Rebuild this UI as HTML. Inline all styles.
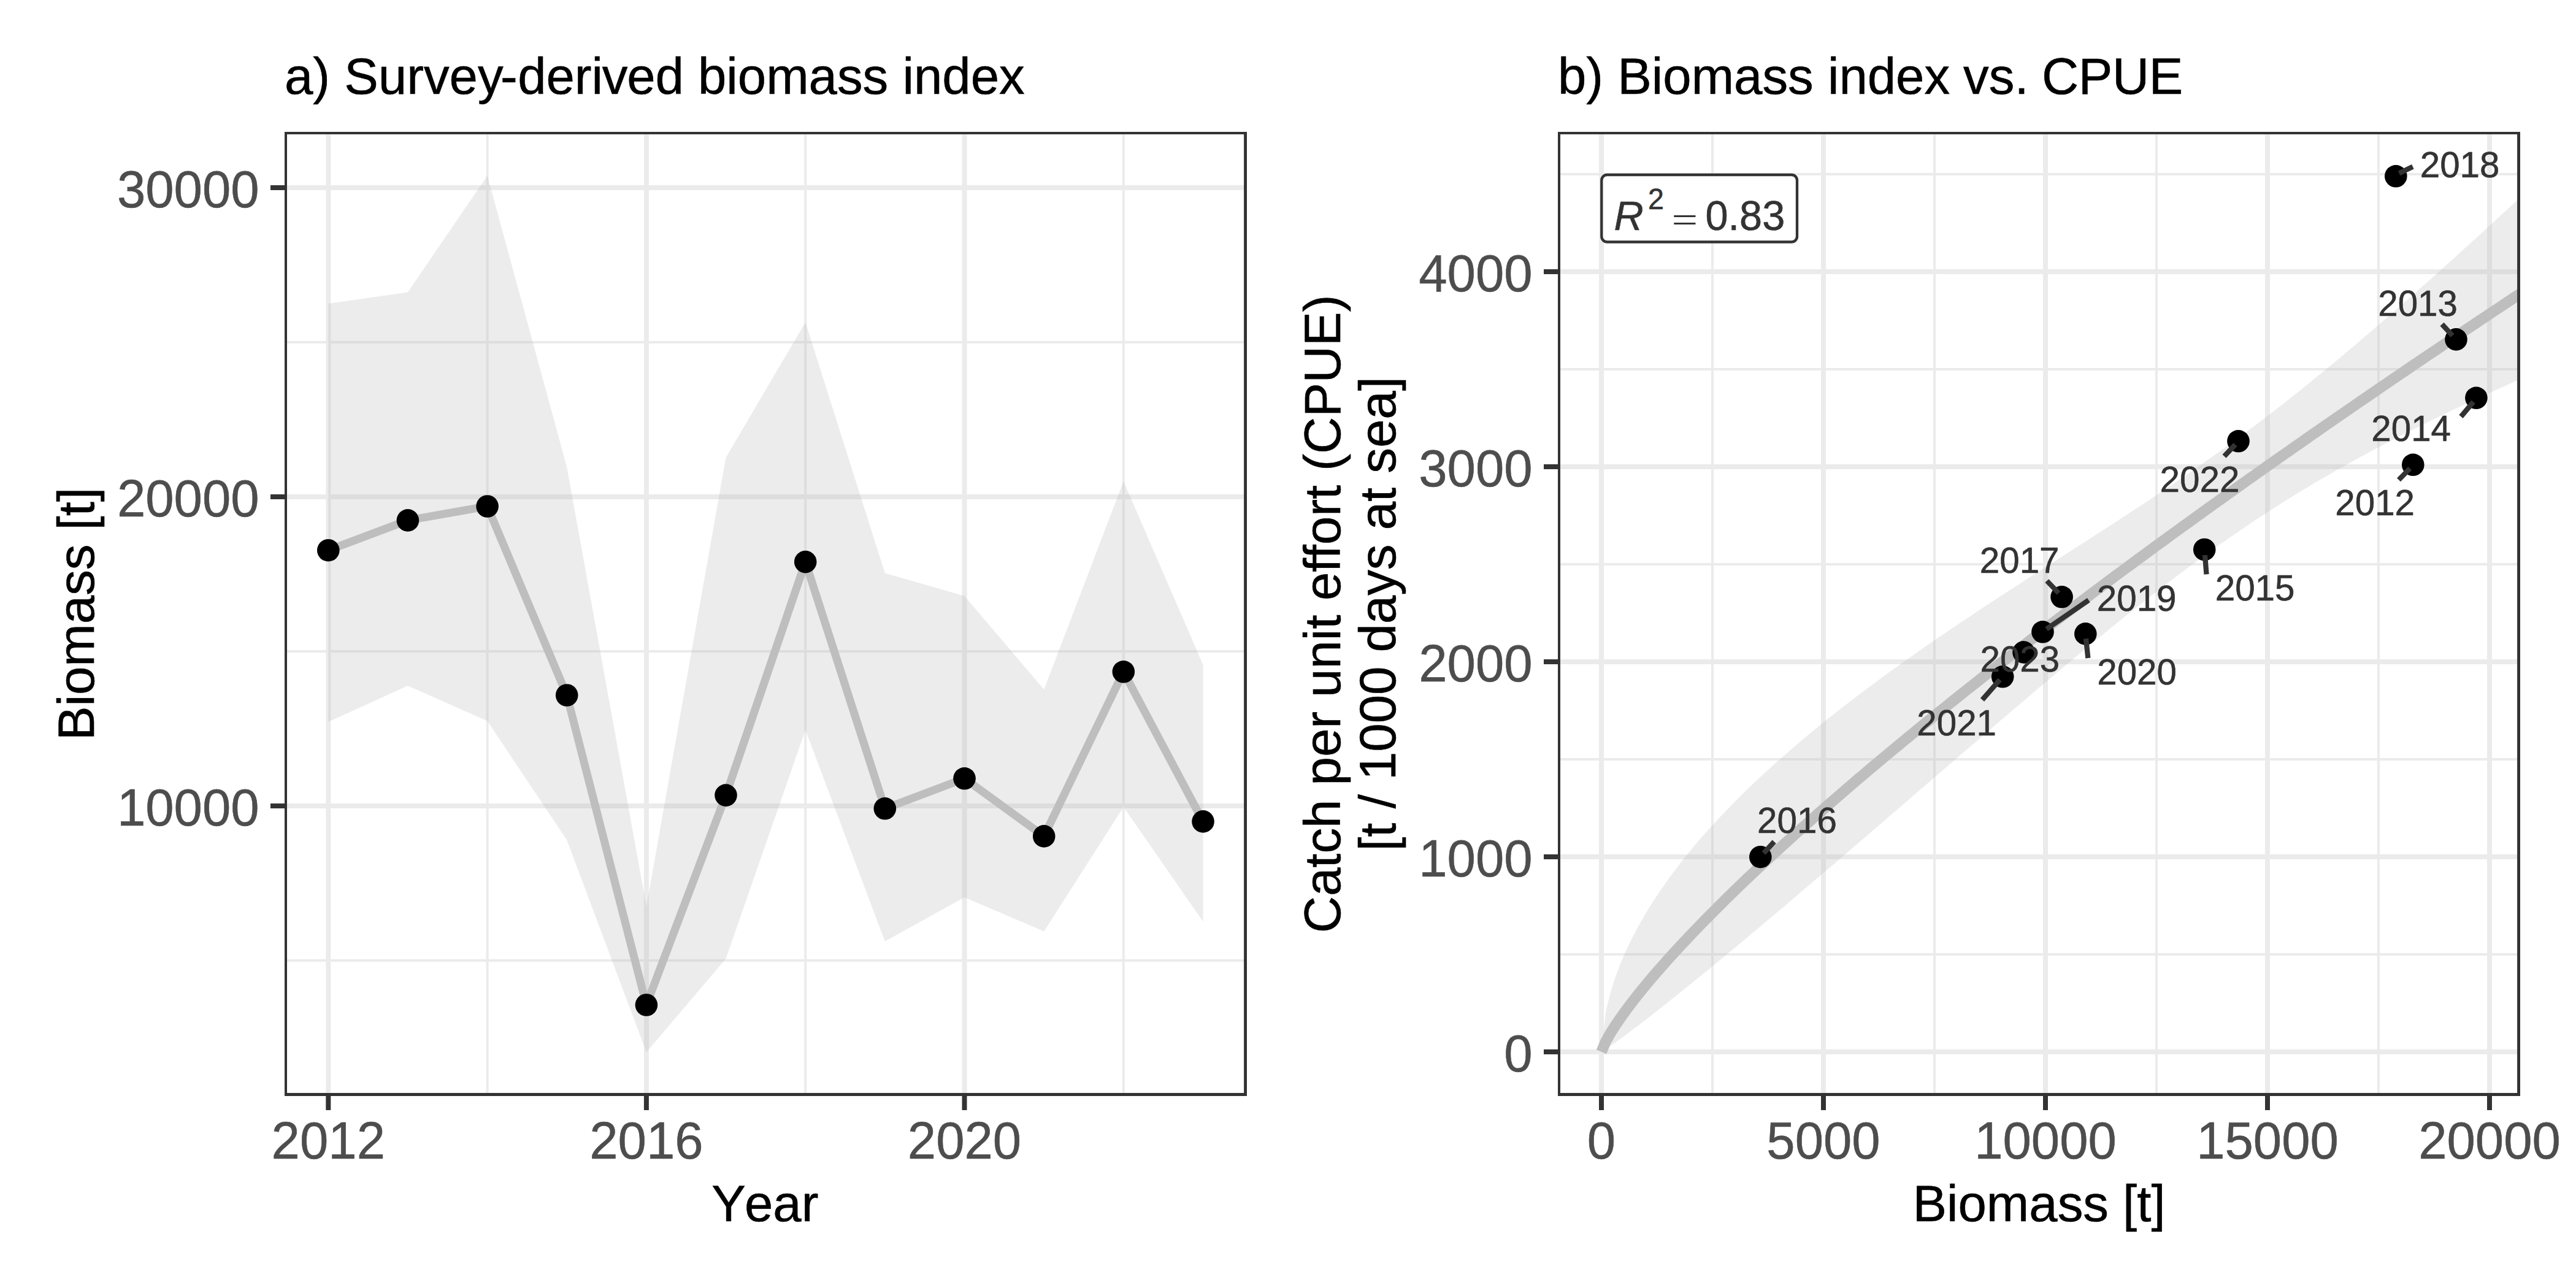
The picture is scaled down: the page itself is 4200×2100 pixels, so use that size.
<!DOCTYPE html>
<html><head><meta charset="utf-8"><title>Biomass index</title>
<style>html,body{margin:0;padding:0;background:#fff;}svg{display:block;}text{font-family:"Liberation Sans",Arial,sans-serif;stroke-width:0.6px;}</style></head><body>
<svg width="4200" height="2100" viewBox="0 0 4200 2100">
<rect width="4200" height="2100" fill="#fff"/>
<defs><clipPath id="ca"><rect x="464" y="215" width="1569" height="1572"/></clipPath><clipPath id="cb"><rect x="2540" y="215" width="1569" height="1572"/></clipPath></defs>
<g clip-path="url(#ca)">
<line x1="464" x2="2033" y1="1566.0" y2="1566.0" stroke="#EBEBEB" stroke-width="4"/>
<line x1="464" x2="2033" y1="1062.0" y2="1062.0" stroke="#EBEBEB" stroke-width="4"/>
<line x1="464" x2="2033" y1="558.0" y2="558.0" stroke="#EBEBEB" stroke-width="4"/>
<line y1="215" y2="1787" x1="794.6" x2="794.6" stroke="#EBEBEB" stroke-width="4"/>
<line y1="215" y2="1787" x1="1313.2" x2="1313.2" stroke="#EBEBEB" stroke-width="4"/>
<line y1="215" y2="1787" x1="1831.8" x2="1831.8" stroke="#EBEBEB" stroke-width="4"/>
<line x1="464" x2="2033" y1="1314.0" y2="1314.0" stroke="#EBEBEB" stroke-width="8"/>
<line x1="464" x2="2033" y1="810.0" y2="810.0" stroke="#EBEBEB" stroke-width="8"/>
<line x1="464" x2="2033" y1="306.0" y2="306.0" stroke="#EBEBEB" stroke-width="8"/>
<line y1="215" y2="1787" x1="535.3" x2="535.3" stroke="#EBEBEB" stroke-width="8"/>
<line y1="215" y2="1787" x1="1053.9" x2="1053.9" stroke="#EBEBEB" stroke-width="8"/>
<line y1="215" y2="1787" x1="1572.5" x2="1572.5" stroke="#EBEBEB" stroke-width="8"/>
<polygon points="535.3,495.0 664.9,476.4 794.6,286.5 924.2,761.5 1053.9,1478.0 1183.5,746.0 1313.2,525.5 1442.8,934.5 1572.5,971.7 1702.2,1124.2 1831.8,784.8 1961.5,1083.9 1961.5,1502.5 1831.8,1315.8 1702.2,1518.6 1572.5,1463.0 1442.8,1534.8 1313.2,1190.0 1183.5,1563.0 1053.9,1715.5 924.2,1369.6 794.6,1175.5 664.9,1118.0 535.3,1177.0" fill="rgba(179,179,179,0.25)"/>
<polyline points="535.3,897.2 664.9,848.4 794.6,825.5 924.2,1133.5 1053.9,1638.5 1183.5,1296.6 1313.2,916.1 1442.8,1318.3 1572.5,1269.3 1702.2,1363.4 1831.8,1095.3 1961.5,1339.4" fill="none" stroke="#BEBEBE" stroke-width="13" stroke-linejoin="round" stroke-linecap="butt"/>
<circle cx="535.3" cy="897.2" r="18.3" fill="#000"/>
<circle cx="664.9" cy="848.4" r="18.3" fill="#000"/>
<circle cx="794.6" cy="825.5" r="18.3" fill="#000"/>
<circle cx="924.2" cy="1133.5" r="18.3" fill="#000"/>
<circle cx="1053.9" cy="1638.5" r="18.3" fill="#000"/>
<circle cx="1183.5" cy="1296.6" r="18.3" fill="#000"/>
<circle cx="1313.2" cy="916.1" r="18.3" fill="#000"/>
<circle cx="1442.8" cy="1318.3" r="18.3" fill="#000"/>
<circle cx="1572.5" cy="1269.3" r="18.3" fill="#000"/>
<circle cx="1702.2" cy="1363.4" r="18.3" fill="#000"/>
<circle cx="1831.8" cy="1095.3" r="18.3" fill="#000"/>
<circle cx="1961.5" cy="1339.4" r="18.3" fill="#000"/>
</g>
<path fill-rule="evenodd" fill="#333333" d="M464,215H2033V1787H464Z M468,219V1782.1H2028.1V219Z"/>
<line x1="441" x2="464" y1="1314.0" y2="1314.0" stroke="#333333" stroke-width="8"/>
<text transform="translate(422.6,1345.8) scale(1,1.027)" font-size="83.33" fill="#4D4D4D" stroke="#4D4D4D" text-anchor="end">10000</text>
<line x1="441" x2="464" y1="810.0" y2="810.0" stroke="#333333" stroke-width="8"/>
<text transform="translate(422.6,841.8) scale(1,1.027)" font-size="83.33" fill="#4D4D4D" stroke="#4D4D4D" text-anchor="end">20000</text>
<line x1="441" x2="464" y1="306.0" y2="306.0" stroke="#333333" stroke-width="8"/>
<text transform="translate(422.6,337.8) scale(1,1.027)" font-size="83.33" fill="#4D4D4D" stroke="#4D4D4D" text-anchor="end">30000</text>
<line y1="1787" y2="1810" x1="535.3" x2="535.3" stroke="#333333" stroke-width="8"/>
<text transform="translate(535.3,1889.0) scale(1,1.027)" font-size="83.33" fill="#4D4D4D" stroke="#4D4D4D" text-anchor="middle">2012</text>
<line y1="1787" y2="1810" x1="1053.9" x2="1053.9" stroke="#333333" stroke-width="8"/>
<text transform="translate(1053.9,1889.0) scale(1,1.027)" font-size="83.33" fill="#4D4D4D" stroke="#4D4D4D" text-anchor="middle">2016</text>
<line y1="1787" y2="1810" x1="1572.5" x2="1572.5" stroke="#333333" stroke-width="8"/>
<text transform="translate(1572.5,1889.0) scale(1,1.027)" font-size="83.33" fill="#4D4D4D" stroke="#4D4D4D" text-anchor="middle">2020</text>
<text x="464" y="153" font-size="83.33" fill="#000" stroke="#000">a) Survey<tspan dx="-4.6">-</tspan><tspan dx="0.4">deri</tspan><tspan dx="-1.3">v</tspan><tspan dx="-1.3">ed biomass index</tspan></text>
<text x="1160.2" y="1991" font-size="83.33" fill="#000" stroke="#000">Y<tspan x="1214">ear</tspan></text>
<text transform="translate(153,1001.0) rotate(-90)" font-size="83.33" fill="#000" stroke="#000" text-anchor="middle">Biomass [t]</text>
<g clip-path="url(#cb)">
<line x1="2540" x2="4109" y1="1556.0" y2="1556.0" stroke="#EBEBEB" stroke-width="4"/>
<line x1="2540" x2="4109" y1="1238.0" y2="1238.0" stroke="#EBEBEB" stroke-width="4"/>
<line x1="2540" x2="4109" y1="920.0" y2="920.0" stroke="#EBEBEB" stroke-width="4"/>
<line x1="2540" x2="4109" y1="602.0" y2="602.0" stroke="#EBEBEB" stroke-width="4"/>
<line x1="2540" x2="4109" y1="284.0" y2="284.0" stroke="#EBEBEB" stroke-width="4"/>
<line y1="215" y2="1787" x1="2792.0" x2="2792.0" stroke="#EBEBEB" stroke-width="4"/>
<line y1="215" y2="1787" x1="3154.0" x2="3154.0" stroke="#EBEBEB" stroke-width="4"/>
<line y1="215" y2="1787" x1="3516.0" x2="3516.0" stroke="#EBEBEB" stroke-width="4"/>
<line y1="215" y2="1787" x1="3878.0" x2="3878.0" stroke="#EBEBEB" stroke-width="4"/>
<line x1="2540" x2="4109" y1="1715.0" y2="1715.0" stroke="#EBEBEB" stroke-width="8"/>
<line x1="2540" x2="4109" y1="1397.0" y2="1397.0" stroke="#EBEBEB" stroke-width="8"/>
<line x1="2540" x2="4109" y1="1079.0" y2="1079.0" stroke="#EBEBEB" stroke-width="8"/>
<line x1="2540" x2="4109" y1="761.0" y2="761.0" stroke="#EBEBEB" stroke-width="8"/>
<line x1="2540" x2="4109" y1="443.0" y2="443.0" stroke="#EBEBEB" stroke-width="8"/>
<line y1="215" y2="1787" x1="2611.0" x2="2611.0" stroke="#EBEBEB" stroke-width="8"/>
<line y1="215" y2="1787" x1="2973.0" x2="2973.0" stroke="#EBEBEB" stroke-width="8"/>
<line y1="215" y2="1787" x1="3335.0" x2="3335.0" stroke="#EBEBEB" stroke-width="8"/>
<line y1="215" y2="1787" x1="3697.0" x2="3697.0" stroke="#EBEBEB" stroke-width="8"/>
<line y1="215" y2="1787" x1="4059.0" x2="4059.0" stroke="#EBEBEB" stroke-width="8"/>
<polygon points="2611.0,1715.0 2618.2,1649.0 2625.5,1619.4 2632.7,1596.3 2640.0,1576.6 2647.2,1559.1 2654.4,1543.1 2661.7,1528.3 2668.9,1514.5 2676.2,1501.4 2683.4,1489.0 2690.6,1477.2 2697.9,1465.8 2705.1,1454.9 2712.4,1444.4 2719.6,1434.2 2726.8,1424.3 2734.1,1414.7 2741.3,1405.3 2748.6,1396.2 2755.8,1387.3 2763.0,1378.6 2770.3,1370.1 2777.5,1361.8 2784.8,1353.6 2792.0,1345.6 2799.2,1337.7 2806.5,1330.0 2813.7,1322.4 2821.0,1314.9 2828.2,1307.5 2835.4,1300.3 2842.7,1293.1 2849.9,1286.1 2857.2,1279.1 2864.4,1272.2 2871.6,1265.5 2878.9,1258.8 2886.1,1252.1 2893.4,1245.6 2900.6,1239.1 2907.8,1232.7 2915.1,1226.4 2922.3,1220.1 2929.6,1213.9 2936.8,1207.8 2944.0,1201.7 2951.3,1195.7 2958.5,1189.7 2965.8,1183.8 2973.0,1177.9 2980.2,1172.1 2987.5,1166.4 2994.7,1160.6 3002.0,1155.0 3009.2,1149.3 3016.4,1143.7 3023.7,1138.2 3030.9,1132.7 3038.2,1127.2 3045.4,1121.8 3052.6,1116.4 3059.9,1111.0 3067.1,1105.7 3074.4,1100.4 3081.6,1095.1 3088.8,1089.9 3096.1,1084.7 3103.3,1079.5 3110.6,1074.4 3117.8,1069.3 3125.0,1064.2 3132.3,1059.1 3139.5,1054.1 3146.8,1049.1 3154.0,1044.1 3161.2,1039.1 3168.5,1034.2 3175.7,1029.2 3183.0,1024.3 3190.2,1019.4 3197.4,1014.6 3204.7,1009.7 3211.9,1004.9 3219.2,1000.1 3226.4,995.3 3233.6,990.5 3240.9,985.7 3248.1,981.0 3255.4,976.2 3262.6,971.5 3269.8,966.8 3277.1,962.1 3284.3,957.4 3291.6,952.7 3298.8,948.0 3306.0,943.3 3313.3,938.6 3320.5,934.0 3327.8,929.3 3335.0,924.7 3342.2,920.0 3349.5,915.4 3356.7,910.7 3364.0,906.1 3371.2,901.5 3378.4,896.8 3385.7,892.2 3392.9,887.5 3400.2,882.9 3407.4,878.2 3414.6,873.6 3421.9,868.9 3429.1,864.2 3436.4,859.6 3443.6,854.9 3450.8,850.2 3458.1,845.5 3465.3,840.8 3472.6,836.0 3479.8,831.3 3487.0,826.5 3494.3,821.8 3501.5,817.0 3508.8,812.2 3516.0,807.3 3523.2,802.5 3530.5,797.6 3537.7,792.7 3545.0,787.8 3552.2,782.9 3559.4,777.9 3566.7,773.0 3573.9,767.9 3581.2,762.9 3588.4,757.8 3595.6,752.8 3602.9,747.6 3610.1,742.5 3617.4,737.3 3624.6,732.1 3631.8,726.8 3639.1,721.6 3646.3,716.3 3653.6,710.9 3660.8,705.5 3668.0,700.1 3675.3,694.7 3682.5,689.2 3689.8,683.7 3697.0,678.2 3704.2,672.6 3711.5,667.0 3718.7,661.4 3726.0,655.7 3733.2,650.0 3740.4,644.2 3747.7,638.5 3754.9,632.7 3762.2,626.9 3769.4,621.0 3776.6,615.1 3783.9,609.2 3791.1,603.2 3798.4,597.3 3805.6,591.3 3812.8,585.2 3820.1,579.2 3827.3,573.1 3834.6,567.0 3841.8,560.9 3849.0,554.7 3856.3,548.5 3863.5,542.3 3870.8,536.1 3878.0,529.9 3885.2,523.6 3892.5,517.3 3899.7,511.0 3907.0,504.7 3914.2,498.3 3921.4,492.0 3928.7,485.6 3935.9,479.2 3943.2,472.8 3950.4,466.3 3957.6,459.9 3964.9,453.4 3972.1,446.9 3979.4,440.4 3986.6,433.9 3993.8,427.4 4001.1,420.9 4008.3,414.3 4015.6,407.7 4022.8,401.2 4030.0,394.6 4037.3,388.0 4044.5,381.4 4051.8,374.7 4059.0,368.1 4066.2,361.5 4073.5,354.8 4080.7,348.1 4088.0,341.4 4095.2,334.8 4102.4,328.1 4109.7,321.4 4116.9,314.6 4124.2,307.9 4131.4,301.2 4131.4,608.1 4124.2,611.3 4116.9,614.5 4109.7,617.7 4102.4,620.9 4095.2,624.2 4088.0,627.4 4080.7,630.7 4073.5,634.0 4066.2,637.3 4059.0,640.6 4051.8,643.9 4044.5,647.2 4037.3,650.6 4030.0,654.0 4022.8,657.4 4015.6,660.8 4008.3,664.2 4001.1,667.6 3993.8,671.1 3986.6,674.6 3979.4,678.1 3972.1,681.6 3964.9,685.1 3957.6,688.7 3950.4,692.3 3943.2,695.9 3935.9,699.5 3928.7,703.1 3921.4,706.8 3914.2,710.5 3907.0,714.2 3899.7,717.9 3892.5,721.7 3885.2,725.5 3878.0,729.3 3870.8,733.1 3863.5,737.0 3856.3,740.9 3849.0,744.8 3841.8,748.8 3834.6,752.8 3827.3,756.8 3820.1,760.9 3812.8,764.9 3805.6,769.0 3798.4,773.2 3791.1,777.4 3783.9,781.6 3776.6,785.8 3769.4,790.1 3762.2,794.4 3754.9,798.8 3747.7,803.2 3740.4,807.6 3733.2,812.1 3726.0,816.6 3718.7,821.2 3711.5,825.8 3704.2,830.4 3697.0,835.1 3689.8,839.8 3682.5,844.5 3675.3,849.3 3668.0,854.2 3660.8,859.0 3653.6,863.9 3646.3,868.9 3639.1,873.9 3631.8,878.9 3624.6,884.0 3617.4,889.1 3610.1,894.3 3602.9,899.5 3595.6,904.7 3588.4,910.0 3581.2,915.3 3573.9,920.7 3566.7,926.0 3559.4,931.5 3552.2,936.9 3545.0,942.4 3537.7,947.9 3530.5,953.5 3523.2,959.0 3516.0,964.7 3508.8,970.3 3501.5,976.0 3494.3,981.7 3487.0,987.4 3479.8,993.2 3472.6,998.9 3465.3,1004.7 3458.1,1010.6 3450.8,1016.4 3443.6,1022.3 3436.4,1028.2 3429.1,1034.1 3421.9,1040.0 3414.6,1046.0 3407.4,1052.0 3400.2,1057.9 3392.9,1063.9 3385.7,1070.0 3378.4,1076.0 3371.2,1082.0 3364.0,1088.1 3356.7,1094.2 3349.5,1100.3 3342.2,1106.4 3335.0,1112.5 3327.8,1118.6 3320.5,1124.7 3313.3,1130.9 3306.0,1137.0 3298.8,1143.2 3291.6,1149.4 3284.3,1155.5 3277.1,1161.7 3269.8,1167.9 3262.6,1174.1 3255.4,1180.3 3248.1,1186.5 3240.9,1192.7 3233.6,1198.9 3226.4,1205.2 3219.2,1211.4 3211.9,1217.6 3204.7,1223.9 3197.4,1230.1 3190.2,1236.3 3183.0,1242.6 3175.7,1248.8 3168.5,1255.0 3161.2,1261.3 3154.0,1267.5 3146.8,1273.8 3139.5,1280.0 3132.3,1286.3 3125.0,1292.5 3117.8,1298.8 3110.6,1305.0 3103.3,1311.3 3096.1,1317.5 3088.8,1323.7 3081.6,1330.0 3074.4,1336.2 3067.1,1342.5 3059.9,1348.7 3052.6,1354.9 3045.4,1361.2 3038.2,1367.4 3030.9,1373.6 3023.7,1379.8 3016.4,1386.0 3009.2,1392.3 3002.0,1398.5 2994.7,1404.7 2987.5,1410.9 2980.2,1417.1 2973.0,1423.2 2965.8,1429.4 2958.5,1435.6 2951.3,1441.8 2944.0,1447.9 2936.8,1454.1 2929.6,1460.2 2922.3,1466.4 2915.1,1472.5 2907.8,1478.7 2900.6,1484.8 2893.4,1490.9 2886.1,1497.0 2878.9,1503.1 2871.6,1509.2 2864.4,1515.3 2857.2,1521.3 2849.9,1527.4 2842.7,1533.4 2835.4,1539.5 2828.2,1545.5 2821.0,1551.5 2813.7,1557.5 2806.5,1563.5 2799.2,1569.5 2792.0,1575.4 2784.8,1581.4 2777.5,1587.3 2770.3,1593.2 2763.0,1599.1 2755.8,1605.0 2748.6,1610.8 2741.3,1616.7 2734.1,1622.5 2726.8,1628.3 2719.6,1634.1 2712.4,1639.8 2705.1,1645.5 2697.9,1651.2 2690.6,1656.9 2683.4,1662.5 2676.2,1668.1 2668.9,1673.6 2661.7,1679.1 2654.4,1684.6 2647.2,1690.0 2640.0,1695.3 2632.7,1700.5 2625.5,1705.6 2618.2,1710.5 2611.0,1715.0" fill="rgba(179,179,179,0.25)"/>
<polyline points="2611.0,1715.0 2618.2,1697.8 2625.5,1685.0 2632.7,1673.5 2640.0,1662.8 2647.2,1652.5 2654.4,1642.7 2661.7,1633.2 2668.9,1623.9 2676.2,1614.9 2683.4,1606.1 2690.6,1597.4 2697.9,1588.9 2705.1,1580.6 2712.4,1572.4 2719.6,1564.2 2726.8,1556.2 2734.1,1548.3 2741.3,1540.5 2748.6,1532.8 2755.8,1525.1 2763.0,1517.6 2770.3,1510.1 2777.5,1502.6 2784.8,1495.2 2792.0,1487.9 2799.2,1480.7 2806.5,1473.5 2813.7,1466.3 2821.0,1459.2 2828.2,1452.2 2835.4,1445.2 2842.7,1438.2 2849.9,1431.3 2857.2,1424.4 2864.4,1417.6 2871.6,1410.8 2878.9,1404.1 2886.1,1397.3 2893.4,1390.7 2900.6,1384.0 2907.8,1377.4 2915.1,1370.8 2922.3,1364.2 2929.6,1357.7 2936.8,1351.2 2944.0,1344.8 2951.3,1338.3 2958.5,1331.9 2965.8,1325.5 2973.0,1319.2 2980.2,1312.8 2987.5,1306.5 2994.7,1300.2 3002.0,1294.0 3009.2,1287.7 3016.4,1281.5 3023.7,1275.3 3030.9,1269.1 3038.2,1263.0 3045.4,1256.8 3052.6,1250.7 3059.9,1244.6 3067.1,1238.6 3074.4,1232.5 3081.6,1226.5 3088.8,1220.5 3096.1,1214.5 3103.3,1208.5 3110.6,1202.5 3117.8,1196.6 3125.0,1190.6 3132.3,1184.7 3139.5,1178.8 3146.8,1173.0 3154.0,1167.1 3161.2,1161.2 3168.5,1155.4 3175.7,1149.6 3183.0,1143.8 3190.2,1138.0 3197.4,1132.2 3204.7,1126.4 3211.9,1120.7 3219.2,1115.0 3226.4,1109.2 3233.6,1103.5 3240.9,1097.8 3248.1,1092.2 3255.4,1086.5 3262.6,1080.8 3269.8,1075.2 3277.1,1069.6 3284.3,1063.9 3291.6,1058.3 3298.8,1052.7 3306.0,1047.2 3313.3,1041.6 3320.5,1036.0 3327.8,1030.5 3335.0,1024.9 3342.2,1019.4 3349.5,1013.9 3356.7,1008.4 3364.0,1002.9 3371.2,997.4 3378.4,991.9 3385.7,986.5 3392.9,981.0 3400.2,975.6 3407.4,970.1 3414.6,964.7 3421.9,959.3 3429.1,953.9 3436.4,948.5 3443.6,943.1 3450.8,937.7 3458.1,932.4 3465.3,927.0 3472.6,921.7 3479.8,916.3 3487.0,911.0 3494.3,905.7 3501.5,900.3 3508.8,895.0 3516.0,889.7 3523.2,884.5 3530.5,879.2 3537.7,873.9 3545.0,868.6 3552.2,863.4 3559.4,858.1 3566.7,852.9 3573.9,847.7 3581.2,842.4 3588.4,837.2 3595.6,832.0 3602.9,826.8 3610.1,821.6 3617.4,816.4 3624.6,811.2 3631.8,806.1 3639.1,800.9 3646.3,795.7 3653.6,790.6 3660.8,785.4 3668.0,780.3 3675.3,775.2 3682.5,770.1 3689.8,764.9 3697.0,759.8 3704.2,754.7 3711.5,749.6 3718.7,744.5 3726.0,739.5 3733.2,734.4 3740.4,729.3 3747.7,724.3 3754.9,719.2 3762.2,714.2 3769.4,709.1 3776.6,704.1 3783.9,699.0 3791.1,694.0 3798.4,689.0 3805.6,684.0 3812.8,679.0 3820.1,674.0 3827.3,669.0 3834.6,664.0 3841.8,659.0 3849.0,654.0 3856.3,649.1 3863.5,644.1 3870.8,639.1 3878.0,634.2 3885.2,629.2 3892.5,624.3 3899.7,619.3 3907.0,614.4 3914.2,609.5 3921.4,604.6 3928.7,599.6 3935.9,594.7 3943.2,589.8 3950.4,584.9 3957.6,580.0 3964.9,575.1 3972.1,570.3 3979.4,565.4 3986.6,560.5 3993.8,555.6 4001.1,550.8 4008.3,545.9 4015.6,541.1 4022.8,536.2 4030.0,531.4 4037.3,526.5 4044.5,521.7 4051.8,516.9 4059.0,512.0 4066.2,507.2 4073.5,502.4 4080.7,497.6 4088.0,492.8 4095.2,488.0 4102.4,483.2 4109.7,478.4 4116.9,473.6 4124.2,468.8 4131.4,464.0" fill="none" stroke="#BEBEBE" stroke-width="17.8" stroke-linejoin="round" stroke-linecap="butt"/>
<circle cx="3934.3" cy="757.8" r="18.3" fill="#000"/>
<circle cx="4004.5" cy="553.4" r="18.3" fill="#000"/>
<circle cx="4037.4" cy="648.8" r="18.3" fill="#000"/>
<circle cx="3594.2" cy="896" r="18.3" fill="#000"/>
<circle cx="2870.3" cy="1397.2" r="18.3" fill="#000"/>
<circle cx="3361.6" cy="973.3" r="18.3" fill="#000"/>
<circle cx="3906.3" cy="287.3" r="18.3" fill="#000"/>
<circle cx="3330.5" cy="1030.3" r="18.3" fill="#000"/>
<circle cx="3400.3" cy="1033.4" r="18.3" fill="#000"/>
<circle cx="3265.2" cy="1103.3" r="18.3" fill="#000"/>
<circle cx="3649.5" cy="719.3" r="18.3" fill="#000"/>
<circle cx="3299.5" cy="1063.4" r="18.3" fill="#000"/>
<line x1="3933.9" y1="271.8" x2="3911.6" y2="282.5" stroke="#333333" stroke-width="8.3" stroke-linecap="butt"/>
<line x1="3981.5" y1="528.6" x2="3998.6" y2="547.2" stroke="#333333" stroke-width="8.3" stroke-linecap="butt"/>
<line x1="4012.5" y1="679.2" x2="4032.7" y2="655.3" stroke="#333333" stroke-width="8.3" stroke-linecap="butt"/>
<line x1="3626.5" y1="743.8" x2="3644.5" y2="724.8" stroke="#333333" stroke-width="8.3" stroke-linecap="butt"/>
<line x1="3911" y1="782.3" x2="3929.3" y2="763.7" stroke="#333333" stroke-width="8.3" stroke-linecap="butt"/>
<line x1="3597.5" y1="936.3" x2="3595" y2="905" stroke="#333333" stroke-width="8.3" stroke-linecap="butt"/>
<line x1="3337.3" y1="947" x2="3356.5" y2="967" stroke="#333333" stroke-width="8.3" stroke-linecap="butt"/>
<line x1="3405.4" y1="978.5" x2="3336.8" y2="1025.6" stroke="#333333" stroke-width="8.3" stroke-linecap="butt"/>
<line x1="3404.4" y1="1073" x2="3401" y2="1041.3" stroke="#333333" stroke-width="8.3" stroke-linecap="butt"/>
<line x1="3232" y1="1141" x2="3260.6" y2="1108.3" stroke="#333333" stroke-width="8.3" stroke-linecap="butt"/>
<line x1="2892.7" y1="1372.4" x2="2875.6" y2="1391" stroke="#333333" stroke-width="8.3" stroke-linecap="butt"/>
<text transform="translate(3945.7,289.3) scale(1,1.027)" font-size="58.33" fill="#333333" stroke="#333333" text-anchor="start">2018</text>
<text transform="translate(3877.2,515.2) scale(1,1.027)" font-size="58.33" fill="#333333" stroke="#333333" text-anchor="start">2013</text>
<text transform="translate(3866.3,718.6) scale(1,1.027)" font-size="58.33" fill="#333333" stroke="#333333" text-anchor="start">2014</text>
<text transform="translate(3521.6,801.9) scale(1,1.027)" font-size="58.33" fill="#333333" stroke="#333333" text-anchor="start">2022</text>
<text transform="translate(3807.3,839.8) scale(1,1.027)" font-size="58.33" fill="#333333" stroke="#333333" text-anchor="start">2012</text>
<text transform="translate(3611.7,978.9) scale(1,1.027)" font-size="58.33" fill="#333333" stroke="#333333" text-anchor="start">2015</text>
<text transform="translate(3227.8,933.5) scale(1,1.027)" font-size="58.33" fill="#333333" stroke="#333333" text-anchor="start">2017</text>
<text transform="translate(3418.8,995.5) scale(1,1.027)" font-size="58.33" fill="#333333" stroke="#333333" text-anchor="start">2019</text>
<text transform="translate(3228.5,1095.3) scale(1,1.027)" font-size="58.33" fill="#333333" stroke="#333333" text-anchor="start">2023</text>
<text transform="translate(3419.2,1116.0) scale(1,1.027)" font-size="58.33" fill="#333333" stroke="#333333" text-anchor="start">2020</text>
<text transform="translate(3125.3,1199.0) scale(1,1.027)" font-size="58.33" fill="#333333" stroke="#333333" text-anchor="start">2021</text>
<text transform="translate(2865.1,1358.4) scale(1,1.027)" font-size="58.33" fill="#333333" stroke="#333333" text-anchor="start">2016</text>
<rect x="2611.3" y="285" width="318.7" height="109.5" rx="9" ry="9" fill="#fff" stroke="#333333" stroke-width="4.3"/>
<text x="2631.5" y="374.9" font-size="66.67" fill="#333333" stroke="#333333" font-style="italic">R</text>
<text transform="translate(2686.9,340.7) scale(1,1.027)" font-size="46.67" fill="#333333" stroke="#333333" text-anchor="start">2</text>
<text transform="translate(2725.4,378.7) scale(1.135,0.92)" font-size="66.67" fill="#333333" style="font-family:'Liberation Serif',serif">=</text>
<text transform="translate(2780.5,374.9) scale(1,1.027)" font-size="66.67" fill="#333333" stroke="#333333" text-anchor="start">0.83</text>
</g>
<path fill-rule="evenodd" fill="#333333" d="M2540,215H4109V1787H2540Z M2544,219V1782.1H4104.1V219Z"/>
<line x1="2517" x2="2540" y1="1715.0" y2="1715.0" stroke="#333333" stroke-width="8"/>
<text transform="translate(2498.6,1746.8) scale(1,1.027)" font-size="83.33" fill="#4D4D4D" stroke="#4D4D4D" text-anchor="end">0</text>
<line x1="2517" x2="2540" y1="1397.0" y2="1397.0" stroke="#333333" stroke-width="8"/>
<text transform="translate(2498.6,1428.8) scale(1,1.027)" font-size="83.33" fill="#4D4D4D" stroke="#4D4D4D" text-anchor="end">1000</text>
<line x1="2517" x2="2540" y1="1079.0" y2="1079.0" stroke="#333333" stroke-width="8"/>
<text transform="translate(2498.6,1110.8) scale(1,1.027)" font-size="83.33" fill="#4D4D4D" stroke="#4D4D4D" text-anchor="end">2000</text>
<line x1="2517" x2="2540" y1="761.0" y2="761.0" stroke="#333333" stroke-width="8"/>
<text transform="translate(2498.6,792.8) scale(1,1.027)" font-size="83.33" fill="#4D4D4D" stroke="#4D4D4D" text-anchor="end">3000</text>
<line x1="2517" x2="2540" y1="443.0" y2="443.0" stroke="#333333" stroke-width="8"/>
<text transform="translate(2498.6,474.8) scale(1,1.027)" font-size="83.33" fill="#4D4D4D" stroke="#4D4D4D" text-anchor="end">4000</text>
<line y1="1787" y2="1810" x1="2611.0" x2="2611.0" stroke="#333333" stroke-width="8"/>
<text transform="translate(2611.0,1889.0) scale(1,1.027)" font-size="83.33" fill="#4D4D4D" stroke="#4D4D4D" text-anchor="middle">0</text>
<line y1="1787" y2="1810" x1="2973.0" x2="2973.0" stroke="#333333" stroke-width="8"/>
<text transform="translate(2973.0,1889.0) scale(1,1.027)" font-size="83.33" fill="#4D4D4D" stroke="#4D4D4D" text-anchor="middle">5000</text>
<line y1="1787" y2="1810" x1="3335.0" x2="3335.0" stroke="#333333" stroke-width="8"/>
<text transform="translate(3335.0,1889.0) scale(1,1.027)" font-size="83.33" fill="#4D4D4D" stroke="#4D4D4D" text-anchor="middle">10000</text>
<line y1="1787" y2="1810" x1="3697.0" x2="3697.0" stroke="#333333" stroke-width="8"/>
<text transform="translate(3697.0,1889.0) scale(1,1.027)" font-size="83.33" fill="#4D4D4D" stroke="#4D4D4D" text-anchor="middle">15000</text>
<line y1="1787" y2="1810" x1="4059.0" x2="4059.0" stroke="#333333" stroke-width="8"/>
<text transform="translate(4059.0,1889.0) scale(1,1.027)" font-size="83.33" fill="#4D4D4D" stroke="#4D4D4D" text-anchor="middle">20000</text>
<text x="2540" y="153" font-size="83.33" fill="#000" stroke="#000">b) Biomass index <tspan dx="-1.2">vs. </tspan><tspan dx="-1.8">C</tspan><tspan dx="-0.4">P</tspan><tspan dx="-0.4">U</tspan><tspan dx="-0.4">E</tspan></text>
<text x="3324.5" y="1991" font-size="83.33" fill="#000" stroke="#000" text-anchor="middle">Biomass [t]</text>
<text transform="translate(2185,1001.0) rotate(-90)" font-size="83.33" fill="#000" stroke="#000" text-anchor="middle">Catch per unit effort (CPUE)</text>
<text transform="translate(2275,1001.0) rotate(-90)" font-size="83.33" fill="#000" stroke="#000" text-anchor="middle">[t / 1000 days at sea]</text>
</svg></body></html>
